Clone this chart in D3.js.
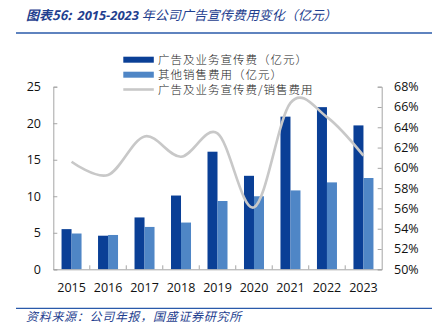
<!DOCTYPE html>
<html><head><meta charset="utf-8">
<script src="https://cdn.jsdelivr.net/npm/d3@7"></script>
<style>
body{margin:0;background:#fff;}
svg{display:block;}
</style></head>
<body><svg id="c" width="435" height="336"></svg>
<script>
const years = ["2015","2016","2017","2018","2019","2020","2021","2022","2023"];
const adExpense = [5.5,4.6,7.1,10.1,16.1,12.8,20.9,22.2,19.7];
const otherSales = [4.9,4.7,5.8,6.4,9.35,10.0,10.8,11.9,12.5];
const adRatio = [0.606,0.593,0.631,0.611,0.634,0.561,0.664,0.650,0.612];
const leftTicks = [0,5,10,15,20,25];
const rightTicks = [0.50,0.52,0.54,0.56,0.58,0.60,0.62,0.64,0.66,0.68];
const seriesNames = ["广告及业务宣传费（亿元）","其他销售费用（亿元）","广告及业务宣传费/销售费用"];
const titleParts = ["图表56:\u00a0\u00a0","2015-2023","\u00a0年公司广告宣传费用变化（亿元）"];
const sourceText = "资料来源：公司年报，国盛证券研究所";

const svg = d3.select("#c");
const L = 53.3, R = 381.7, T = 86.7, B = 269.3;
const cDark = "#0A3F96", cLight = "#4F86C6", cLine = "#C8C8C8", cAxis = "#A6A6A6";
const numFont = "'Open Sans', sans-serif";
const cjk = "'Noto Sans CJK SC', sans-serif";

// title
const title = svg.append("text").attr("x",26).attr("y",20)
  .attr("fill","#1F3F8F").attr("font-style","italic").attr("font-size",13)
  .attr("font-family",cjk);
title.append("tspan").text(titleParts[0]).attr("font-weight","bold");
title.append("tspan").text(titleParts[1]).attr("font-weight","bold").attr("font-family","'Open Sans', sans-serif");
title.append("tspan").text(titleParts[2]);
svg.append("line").attr("x1",16).attr("x2",432).attr("y1",33).attr("y2",33)
  .attr("stroke","#2A5AAA").attr("stroke-width",1.6);

// footer
svg.append("line").attr("x1",16).attr("x2",432).attr("y1",308.3).attr("y2",308.3)
  .attr("stroke","#2A5AAA").attr("stroke-width",1.3);
svg.append("text").attr("x",26).attr("y",321).attr("fill","#1F3F8F")
  .attr("font-style","italic").attr("font-size",12).attr("letter-spacing",0.7)
  .attr("font-family",cjk).text(sourceText);

// scales
const x = d3.scaleBand().domain(years).range([L,R]).padding(0);
const barW = 10;
const x1 = d3.scaleBand().domain(["a","b"]).range([0, barW*2]).padding(0);
const yL = d3.scaleLinear().domain([0,25]).range([B,T]);
const yR = d3.scaleLinear().domain([0.5,0.68]).range([B,T]);
const off = (x.bandwidth()-barW*2)/2;

// bars
const g = svg.append("g");
g.selectAll("rect.dark").data(years).join("rect")
  .attr("x",d=>x(d)+off+x1("a")).attr("width",x1.bandwidth())
  .attr("y",(d,i)=>yL(adExpense[i])).attr("height",(d,i)=>B-yL(adExpense[i]))
  .attr("fill",cDark);
g.selectAll("rect.light").data(years).join("rect")
  .attr("x",d=>x(d)+off+x1("b")).attr("width",x1.bandwidth())
  .attr("y",(d,i)=>yL(otherSales[i])).attr("height",(d,i)=>B-yL(otherSales[i]))
  .attr("fill",cLight);

// line
const line = d3.line().x((d,i)=>x(years[i])+x.bandwidth()/2).y(d=>yR(d))
  .curve(d3.curveCatmullRom.alpha(0));
svg.append("path").datum(adRatio).attr("d",line).attr("fill","none")
  .attr("stroke",cLine).attr("stroke-width",2.6);

// axes
const axL = svg.append("g").attr("transform",`translate(${L},0)`)
  .call(d3.axisRight(yL).tickValues(leftTicks).tickSize(4).tickFormat(""));
axL.select(".domain").attr("stroke",cAxis);
axL.selectAll("line").attr("stroke",cAxis);
svg.append("g").selectAll("text").data(leftTicks).join("text")
  .attr("x",41).attr("y",d=>yL(d)).attr("dy","0.35em").attr("text-anchor","end")
  .attr("font-family",numFont).attr("font-size",12.5).attr("fill","#111").text(d=>d);

const axR = svg.append("g").attr("transform",`translate(${R},0)`)
  .call(d3.axisLeft(yR).tickValues(rightTicks).tickSize(4).tickFormat(""));
axR.select(".domain").attr("stroke",cAxis);
axR.selectAll("line").attr("stroke",cAxis);
svg.append("g").selectAll("text").data(rightTicks).join("text")
  .attr("x",394).attr("y",d=>yR(d)).attr("dy","0.35em").attr("text-anchor","start")
  .attr("font-family",numFont).attr("font-size",12.5).attr("fill","#111")
  .text(d=>d3.format(".0%")(d));

// bottom axis
const axB = svg.append("g").attr("transform",`translate(0,${B})`)
  .call(d3.axisBottom(x).tickSize(0).tickFormat(""));
axB.select(".domain").attr("stroke",cAxis);
svg.append("g").selectAll("line").data(years.slice(1)).join("line")
  .attr("x1",d=>x(d)).attr("x2",d=>x(d)).attr("y1",B).attr("y2",B-4).attr("stroke",cAxis);
svg.append("g").selectAll("text").data(years).join("text")
  .attr("x",d=>x(d)+x.bandwidth()/2).attr("y",287.5).attr("dy","0.35em")
  .attr("text-anchor","middle").attr("font-family",numFont).attr("font-size",12.5)
  .attr("fill","#111").text(d=>d);

// legend
const lg = svg.append("g");
const ly = [59.7, 74.7, 89.5];
lg.append("rect").attr("x",123.3).attr("y",ly[0]-3).attr("width",30.5).attr("height",6).attr("fill",cDark);
lg.append("rect").attr("x",123.3).attr("y",ly[1]-3).attr("width",30.5).attr("height",6).attr("fill",cLight);
lg.append("line").attr("x1",123.3).attr("x2",153.8).attr("y1",ly[2]).attr("y2",ly[2]).attr("stroke",cLine).attr("stroke-width",2.6);
lg.selectAll("text").data(seriesNames).join("text")
  .attr("x",158).attr("y",(d,i)=>ly[i]).attr("dy","0.36em")
  .attr("font-family",cjk).attr("font-size",11.5).attr("font-weight",300).attr("letter-spacing",1)
  .attr("fill","#222").text(d=>d);
</script></body></html>
